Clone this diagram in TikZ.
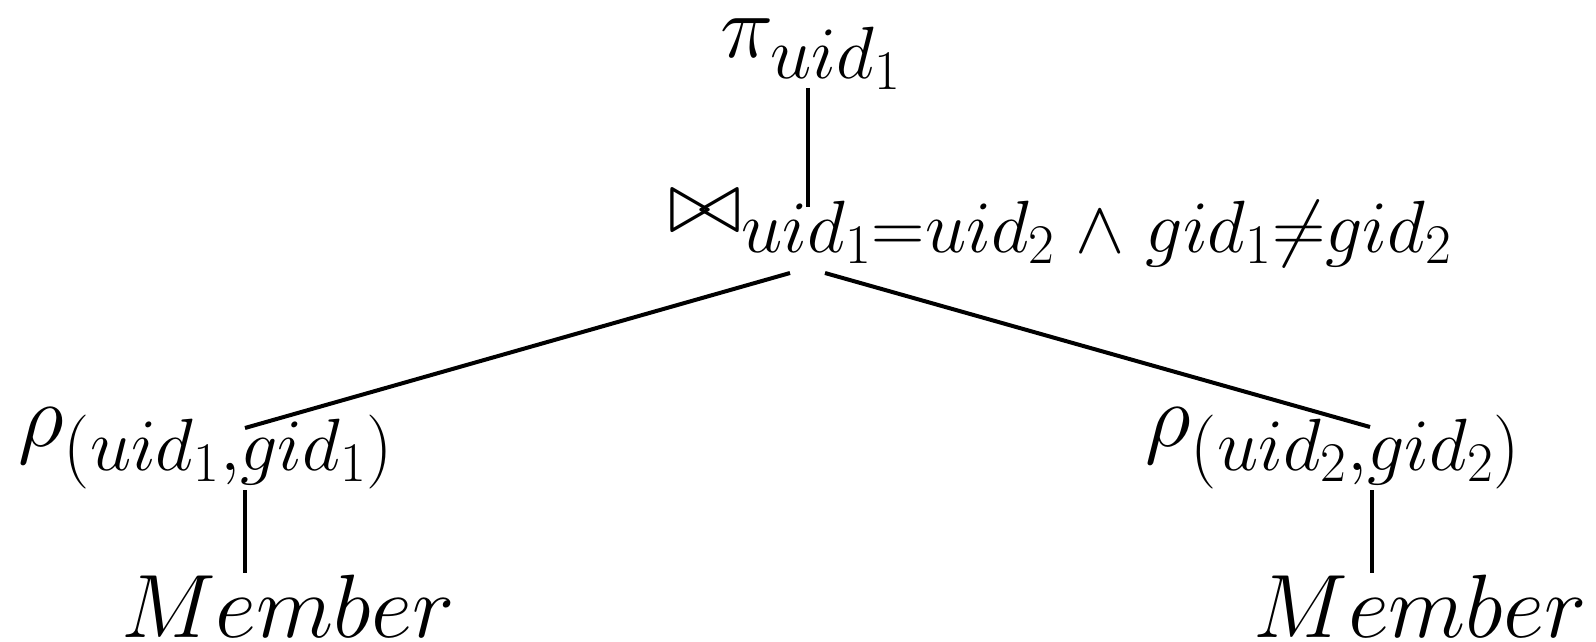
\RequirePackage{fix-cm}
\documentclass[tikz,border=0pt]{standalone}
\DeclareMathSizes{45}{45}{37}{28}
\begin{document}
\begin{tikzpicture}[
		x=0.5pt, y=-0.5pt,
		every node/.style={font=\fontsize{45}{52}\selectfont, inner sep=0pt, anchor=base west},
		branch/.style={draw, line width=2pt}
	]
	\useasboundingbox (0,0) rectangle (1596,642);
	\node (proj) at (720,58) {$\pi_{uid_1}$};
	\node (join) at (668,232) {$\bowtie_{uid_1=uid_2\;\wedge\;gid_1\neq gid_2}$};
	\node (renL) at (18,446) {$\rho_{(uid_1,gid_1)}$};
	\node (renR) at (1145,446) {$\rho_{(uid_2,gid_2)}$};
	\node (relL) at (121,637) {$Member$};
	\node (relR) at (1253,637) {$Member$};
	% attachment points of the lines
	\coordinate (proj-out) at (808,88);
	\coordinate (join-in) at (808,207);
	\coordinate (join-outL) at (790,273);
	\coordinate (join-outR) at (825,273);
	\coordinate (renL-in) at (245,428);
	\coordinate (renR-in) at (1370,427);
	\coordinate (renL-out) at (245,490);
	\coordinate (renR-out) at (1372,490);
	\coordinate (relL-in) at (245,573);
	\coordinate (relR-in) at (1372,573);
	\draw[branch] (proj-out) -- (join-in);
	\draw[branch] (join-outL) -- (renL-in);
	\draw[branch] (join-outR) -- (renR-in);
	\draw[branch] (renL-out) -- (relL-in);
	\draw[branch] (renR-out) -- (relR-in);
\end{tikzpicture}
\end{document}
